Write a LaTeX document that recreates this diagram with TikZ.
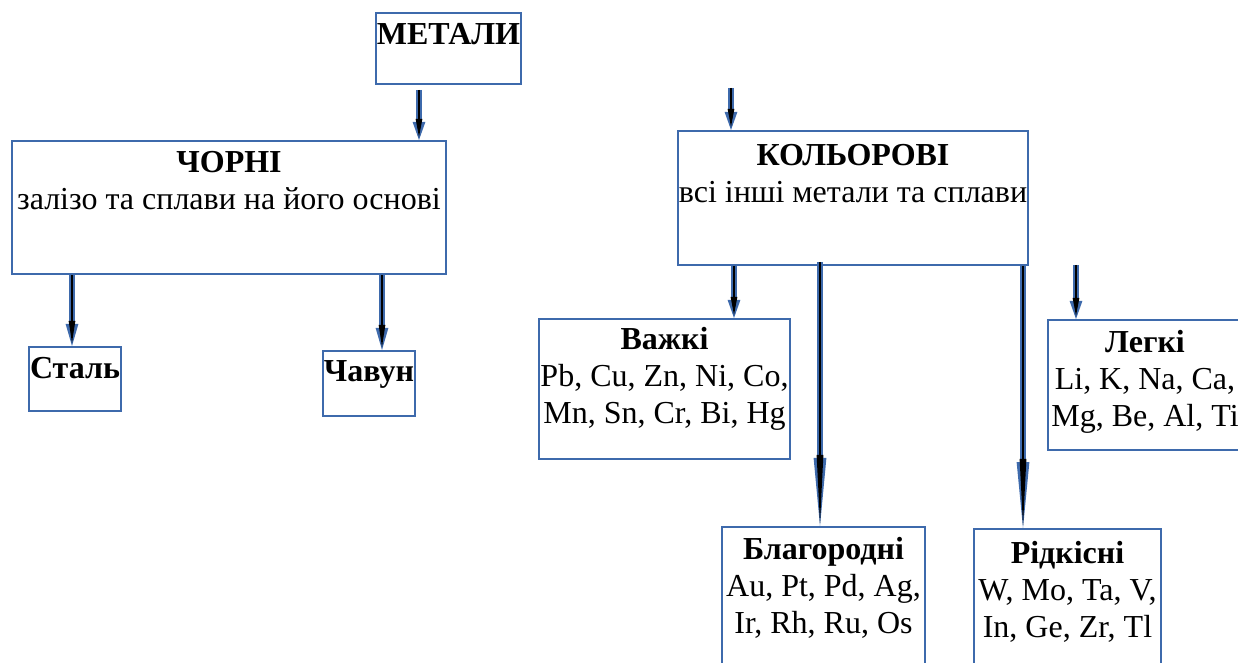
\documentclass[tikz,border=0pt]{standalone}
\usepackage{fontspec}
\setmainfont{Liberation Serif}
\usetikzlibrary{arrows.meta}
\definecolor{boxblue}{RGB}{62,106,172}

% text block inside a box: [top pad]{width}{height}{lines}
\newcommand{\boxtxt}[4][5pt]{\parbox[c][#3][t]{#2}{\centering\vspace*{#1}#4}}

\tikzset{
  blk/.style={draw=boxblue, line width=1pt, inner sep=0pt, anchor=north west,
    font=\fontsize{16}{18.5}\selectfont},
  arr/.style={draw=boxblue, line width=2.8pt,
    -{Triangle[length=#1,width=6.4pt,line width=0pt]},
    postaction={draw=black, line width=1.3pt,
      -{Triangle[length=#1,width=3.4pt,line width=0pt]}, shorten >=1.6pt}},
  arr/.default=9pt
}

\begin{document}
\begin{tikzpicture}[x=0.5pt, y=-0.5pt]
\useasboundingbox (0,0) rectangle (1238,663);
\clip (0,0) rectangle (1238,663);

% boxes
\node[blk] (metaly) at (375,12) {\boxtxt{72.5pt}{35.5pt}{\textbf{МЕТАЛИ}}};
\node[blk] (chorni) at (11,140) {\boxtxt{217pt}{66.5pt}{\textbf{ЧОРНІ}\\залізо та сплави на його основі}};
\node[blk] (stal) at (28,346) {\boxtxt{46pt}{32pt}{\textbf{Сталь}}};
\node[blk] (chavun) at (322,350) {\boxtxt{46pt}{32.5pt}{\textbf{Чавун}}};
\node[blk] (kolorovi) at (677,130) {\boxtxt[6.5pt]{175pt}{67pt}{\textbf{КОЛЬОРОВІ}\\всі інші метали та сплави}};
\node[blk] (vazhki) at (538,318) {\boxtxt[4pt]{125.5pt}{70pt}{\textbf{Важкі}\\Pb, Cu, Zn, Ni, Co,\\Mn, Sn, Cr, Bi, Hg}};
\node[blk] (lehki) at (1047,319) {\boxtxt{97pt}{65pt}{\textbf{Легкі}\\Li, K, Na, Ca,\\Mg, Be, Al, Ti}};
\node[blk] (blagorodni) at (721,526) {\boxtxt{101.5pt}{80pt}{\textbf{Благородні}\\Au, Pt, Pd, Ag,\\ Ir, Rh, Ru, Os}};
\node[blk] (ridkisni) at (973,528) {\boxtxt[6pt]{93.5pt}{80pt}{\textbf{Рідкісні}\\W, Mo, Ta, V,\\ In, Ge, Zr, Tl}};

% arrows
\coordinate (m0) at ([shift={(-29.5,5)}]metaly.south);
\draw[arr] (m0) -- (m0 |- chorni.north);
\coordinate (k0) at (731,88);
\draw[arr] (k0) -- (k0 |- kolorovi.north);

\coordinate (s0) at ([xshift=-1.5pt]stal.north);
\draw[arr=11pt] (s0 |- chorni.south) -- (s0);
\coordinate (c0) at ([xshift=6.5pt]chavun.north);
\draw[arr=11pt] (c0 |- chorni.south) -- (c0);

\coordinate (v0) at ([xshift=34.75pt]vazhki.north);
\draw[arr] (v0 |- kolorovi.south) -- (v0);
\coordinate (b0) at ([xshift=-1.75pt]blagorodni.north);
\draw[arr=34pt] ([yshift=2pt]b0 |- kolorovi.south) -- (b0);
\coordinate (r0) at ([xshift=-22.25pt]ridkisni.north);
\draw[arr=33pt] (r0 |- kolorovi.south) -- (r0);
\coordinate (l0) at (1076,265);
\draw[arr] (l0) -- (l0 |- lehki.north);

\end{tikzpicture}
\end{document}
